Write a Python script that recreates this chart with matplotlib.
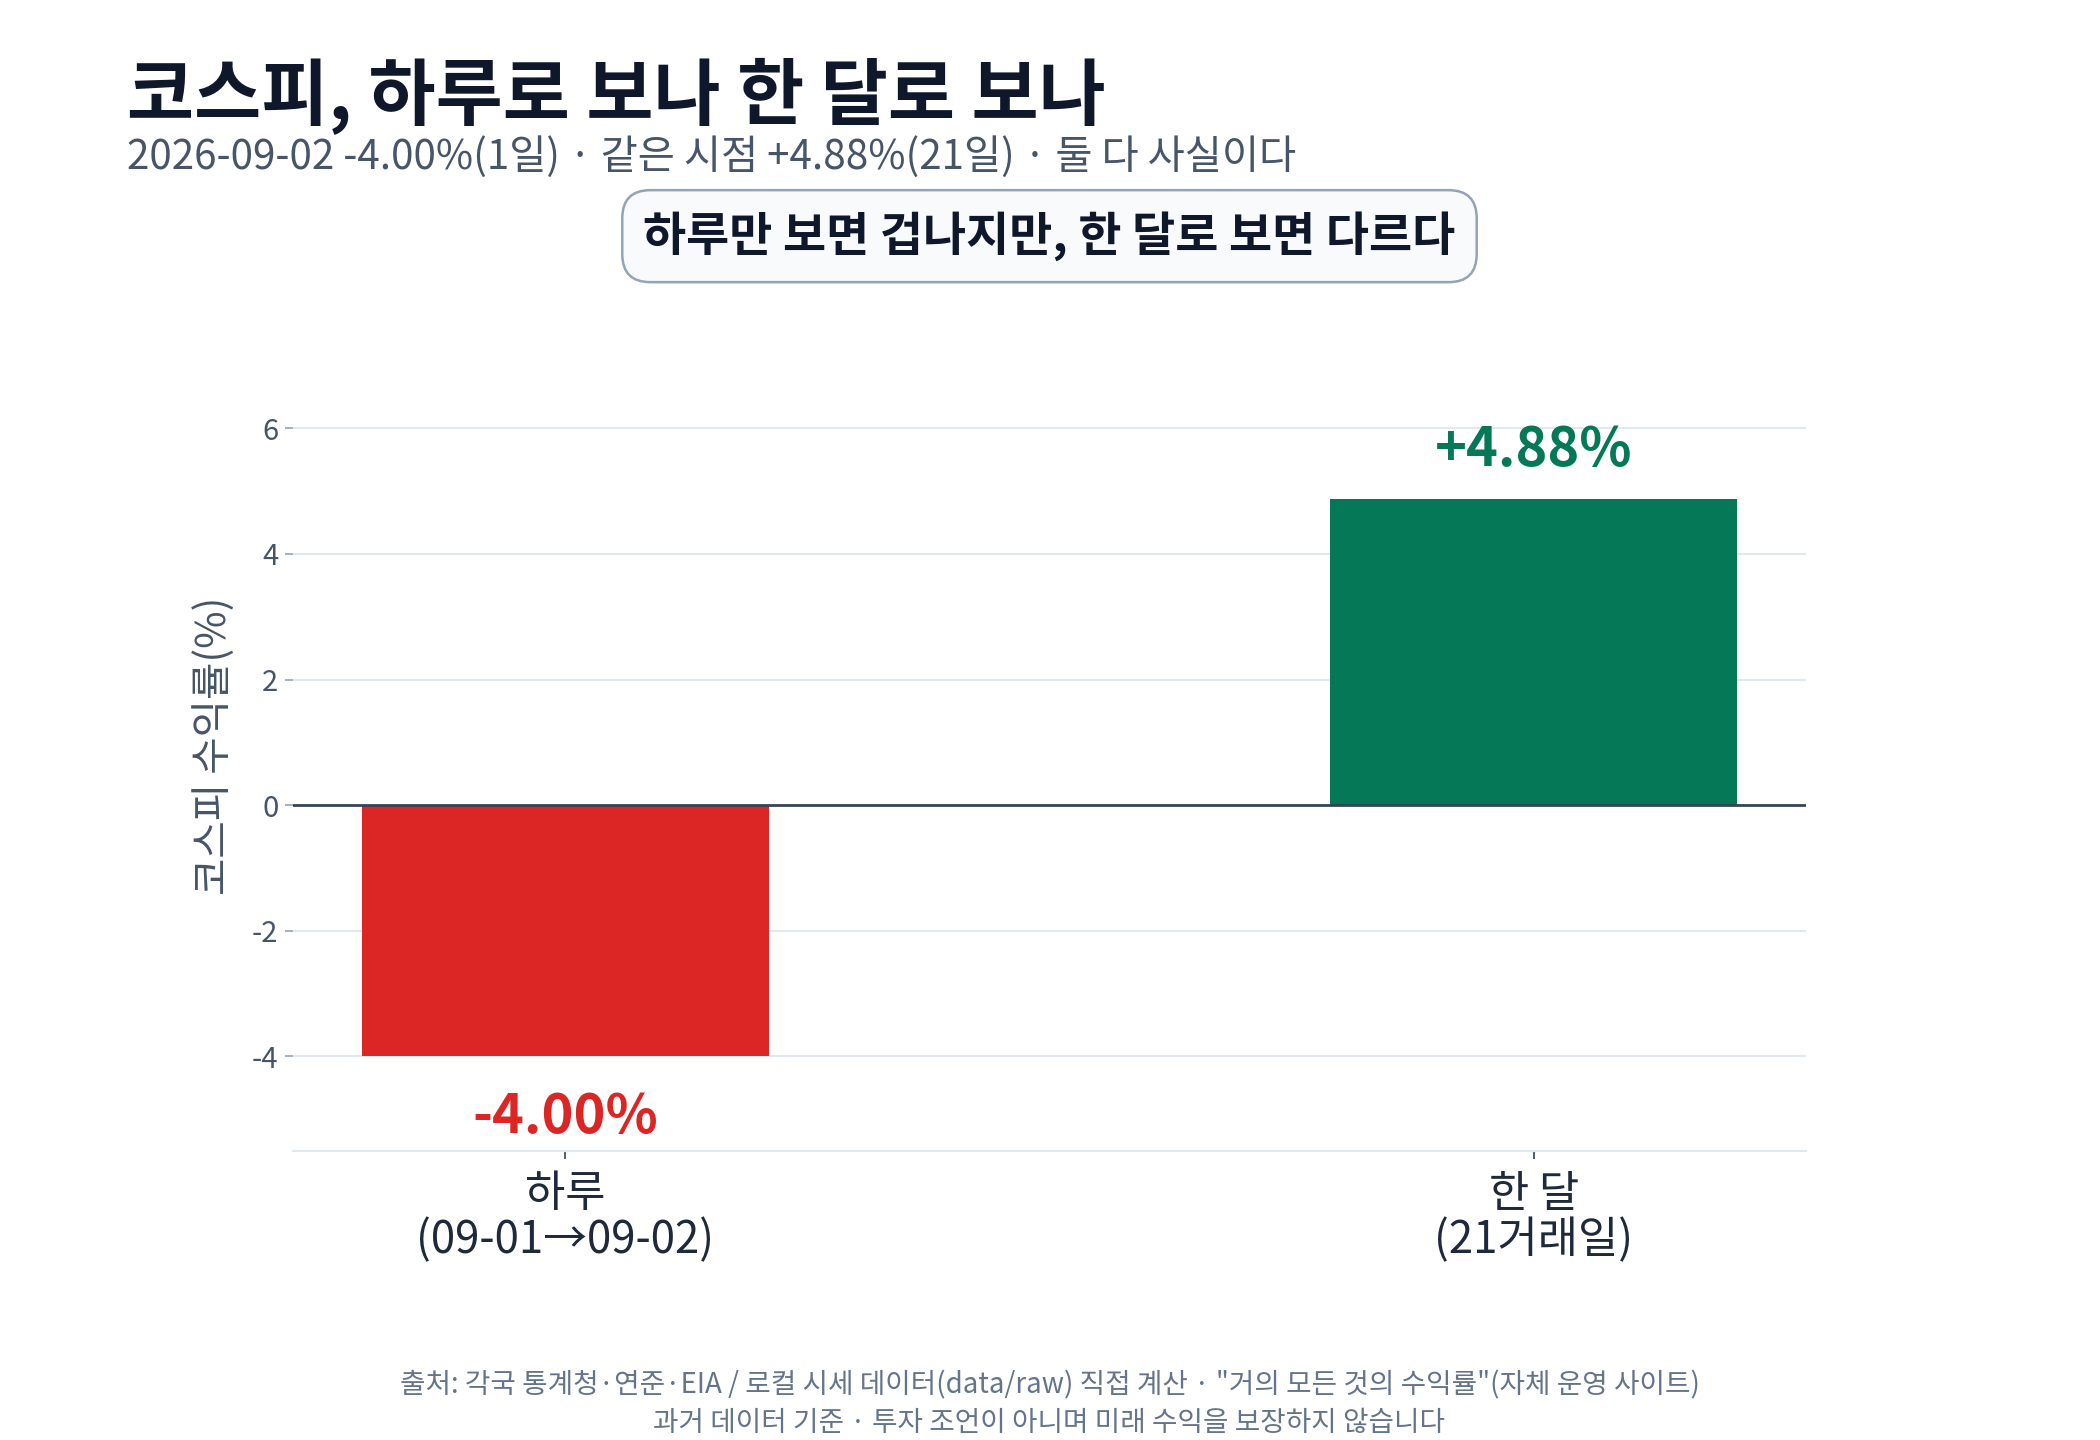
import matplotlib
matplotlib.use('Agg')
import matplotlib.pyplot as plt

plt.rcParams['font.family'] = ['Noto Sans CJK KR', 'DejaVu Sans']
plt.rcParams['axes.unicode_minus'] = False

# 데이터
periods = ['하루\n(09-01→09-02)', '한 달\n(21거래일)']
returns = [-4.00, 4.88]
value_labels = ['-4.00%', '+4.88%']
bar_colors = ['#dc2626', '#047857']
y_ticks = [-4, -2, 0, 2, 4, 6]

title = '코스피, 하루로 보나 한 달로 보나'
subtitle = '2026-09-02 -4.00%(1일) · 같은 시점 +4.88%(21일) · 둘 다 사실이다'
callout = '하루만 보면 겁나지만, 한 달로 보면 다르다'
footer_1 = '출처: 각국 통계청·연준·EIA / 로컬 시세 데이터(data/raw) 직접 계산 · "거의 모든 것의 수익률"(자체 운영 사이트)'
footer_2 = '과거 데이터 기준 · 투자 조언이 아니며 미래 수익을 보장하지 않습니다'

fig = plt.figure(figsize=(14, 9.6), dpi=150)
ax_left, ax_bottom, ax_w, ax_h = 0.1395, 0.201, 0.7205, 0.519
ax = fig.add_axes([ax_left, ax_bottom, ax_w, ax_h])
ax_cx = ax_left + ax_w / 2

x = list(range(len(periods)))
ax.bar(x, returns, width=0.42, color=bar_colors, zorder=3)

# 막대 값 라벨
for xi, v, lab, c in zip(x, returns, value_labels, bar_colors):
    if v >= 0:
        ax.annotate(lab, (xi, v), xytext=(0, 10), textcoords='offset points',
                    ha='center', va='bottom', fontsize=26, fontweight='bold', color=c)
    else:
        ax.annotate(lab, (xi, v), xytext=(0, -16), textcoords='offset points',
                    ha='center', va='top', fontsize=26, fontweight='bold', color=c)

ax.axhline(0, color='#334155', linewidth=1.3, zorder=4)

ax.set_xlim(-0.281, 1.281)
ax.set_ylim(-5.5, 6.4)
ax.set_yticks(y_ticks)
ax.set_xticks(x)
ax.set_xticklabels(periods, fontsize=21, color='#1e293b', linespacing=1.0)
ax.tick_params(axis='y', labelsize=14, labelcolor='#475569', color='#94a3b8',
               length=4, width=0.8, pad=3)
ax.tick_params(axis='x', color='#334155', length=4, width=0.8, pad=6)

ax.grid(axis='y', color='#e2e8f0', linewidth=1.0, zorder=0)
ax.set_axisbelow(True)
for side in ['top', 'right', 'left']:
    ax.spines[side].set_visible(False)
ax.spines['bottom'].set_color('#e2e8f0')
ax.spines['bottom'].set_linewidth(1.0)

# y축 제목
fig.text(160 / 1570, 1 - 558 / 1077, '코스피 수익률(%)', rotation=90, fontsize=19.5,
         color='#475569', ha='center', va='center')

# 제목 / 부제
fig.text(0.0605, 0.917, title, fontsize=35, fontweight='bold', color='#0f172a',
         ha='left', va='baseline')
fig.text(0.0605, 0.883, subtitle, fontsize=19.4, color='#475569',
         ha='left', va='baseline')

# 설명 박스
fig.text(ax_cx, 0.836, callout, ha='center', va='center', fontsize=22.5,
         fontweight='bold', color='#0f172a',
         bbox=dict(boxstyle='round,pad=0.45,rounding_size=0.6', facecolor='#f8fafc',
                   edgecolor='#94a3b8', linewidth=1.2))

# 출처
fig.text(ax_cx, 0.0379, footer_1, fontsize=13.3, color='#64748b', ha='center', va='center')
fig.text(ax_cx, 0.0120, footer_2, fontsize=13.3, color='#64748b', ha='center', va='center')

fig.savefig('out.png', dpi=150)
